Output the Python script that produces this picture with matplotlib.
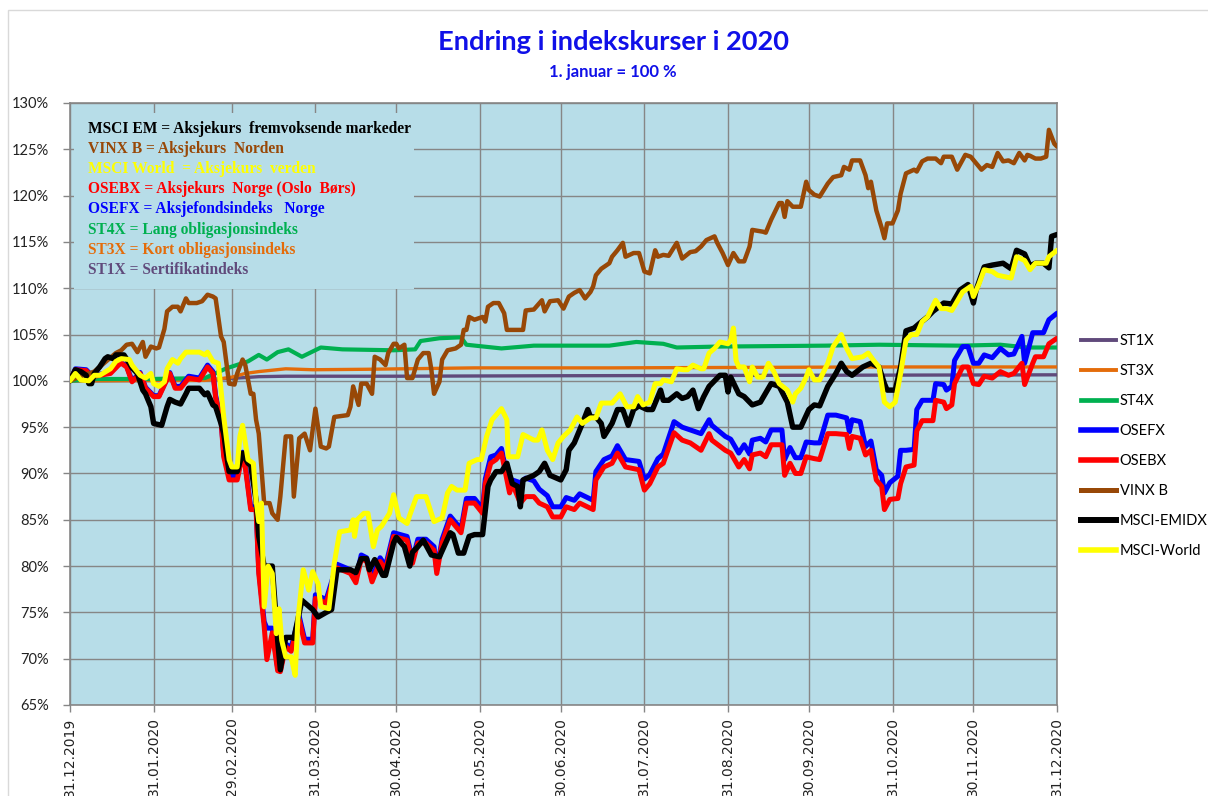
import numpy as np
import pandas as pd
import matplotlib
matplotlib.use('Agg')
import matplotlib.pyplot as plt
from matplotlib.patches import Rectangle
from matplotlib.lines import Line2D

# values: (days after 31.12.2019, index in %)
st1x = [(0, 100.0), (31, 100.05), (52, 100.15), (62, 100.3), (70, 100.45), (80, 100.5),
        (120, 100.5), (180, 100.55), (270, 100.6), (366, 100.65)]
st3x = [(0, 100.0), (50, 100.05), (55, 100.2), (60, 100.4), (65, 100.8), (70, 101.0),
        (80, 101.3), (90, 101.2), (110, 101.25), (150, 101.4), (200, 101.4), (300, 101.5),
        (366, 101.5)]
st4x = [(0, 100.0), (10, 100.2), (30, 100.2), (50, 100.3), (58, 101.35), (66, 102.1),
        (70, 102.8), (73, 102.3), (77, 103.1), (81, 103.4), (86, 102.6), (93, 103.6),
        (101, 103.4), (120, 103.3), (128, 103.4), (130, 104.3), (137, 104.6), (145, 104.7),
        (147, 103.9), (160, 103.5), (172, 103.8), (200, 103.8), (210, 104.2), (220, 104.0),
        (225, 103.6), (240, 103.7), (280, 103.8), (300, 103.9), (330, 103.8), (345, 103.9),
        (355, 103.6), (366, 103.6)]
osefx = [(0, 100.0), (2, 101.3), (6, 101.2), (8, 100.6), (15, 100.9), (18, 101.8), (19, 102.0),
         (21, 101.6), (23, 100.0), (26, 100.9), (28, 99.3), (31, 98.4), (33, 98.4), (37, 100.9),
         (39, 99.4), (41, 99.4), (44, 100.5), (48, 100.3), (51, 101.7), (53, 101.0), (54, 98.4),
         (56, 95.9), (57, 92.1), (59, 89.7), (62, 89.7), (64, 92.3), (65, 91.0), (67, 86.4),
         (69, 86.4), (70, 79.6), (72, 74.0), (73, 73.3), (75, 73.3), (77, 69.0), (78, 68.9),
         (80, 71.6), (82, 71.2), (85, 74.6), (87, 72.1), (90, 72.1), (91, 76.9), (95, 76.4),
         (99, 80.2), (104, 79.6), (106, 78.6), (108, 81.2), (110, 80.9), (112, 78.7), (115, 80.9),
         (117, 80.0), (120, 83.6), (125, 83.2), (127, 80.7), (129, 82.9), (132, 82.9), (135, 82.1),
         (136, 79.6), (138, 82.9), (141, 85.4), (143, 84.7), (145, 84.0), (147, 87.3), (150, 87.3),
         (153, 86.2), (154, 89.4), (156, 91.8), (158, 92.0), (160, 92.7), (163, 88.4), (164, 89.3),
         (167, 89.0), (169, 89.5), (172, 89.2), (174, 88.3), (177, 87.6), (179, 86.4), (182, 86.4),
         (184, 87.4), (187, 87.1), (189, 87.8), (194, 87.1), (195, 90.2), (198, 91.5), (201, 91.9),
         (203, 93.0), (206, 91.5), (211, 91.3), (213, 89.4), (215, 89.9), (218, 91.6), (220, 92.1),
         (224, 95.6), (227, 95.0), (230, 94.7), (234, 94.3), (237, 95.8), (238, 95.2), (243, 94.0),
         (245, 93.7), (248, 92.2), (250, 93.1), (252, 92.1), (253, 93.6), (256, 93.8), (258, 93.4),
         (260, 94.7), (264, 94.7), (265, 91.5), (267, 92.8), (269, 91.7), (271, 91.7), (273, 93.4),
         (276, 93.3), (278, 93.3), (281, 96.3), (284, 96.3), (288, 96.0), (289, 94.5), (290, 95.8),
         (293, 95.6), (295, 92.9), (297, 93.5), (299, 90.4), (301, 89.8), (302, 87.9), (304, 89.0),
         (307, 89.7), (308, 92.5), (310, 92.5), (313, 92.6), (314, 96.9), (316, 97.9), (320, 97.9),
         (321, 99.7), (324, 99.6), (325, 99.0), (327, 99.4), (328, 102.2), (331, 103.7),
         (333, 103.7), (335, 101.9), (337, 101.9), (339, 102.8), (342, 102.5), (345, 103.5),
         (348, 102.8), (350, 102.9), (353, 104.8), (354, 101.9), (357, 105.2), (358, 105.2),
         (361, 105.2), (363, 106.6), (366, 107.3)]
osebx = [(0, 100.0), (2, 101.2), (6, 101.1), (8, 100.45), (15, 100.8), (18, 101.7), (19, 101.9),
         (21, 101.5), (23, 99.9), (26, 100.8), (28, 99.2), (31, 98.3), (33, 98.3), (37, 100.8),
         (39, 99.2), (41, 99.2), (44, 100.3), (48, 100.1), (51, 101.5), (53, 100.8), (54, 98.2),
         (56, 95.7), (57, 91.8), (59, 89.3), (62, 89.3), (64, 92.0), (65, 90.7), (67, 86.1),
         (69, 86.1), (70, 79.2), (72, 73.5), (73, 69.9), (75, 72.8), (77, 68.7), (78, 68.6),
         (80, 71.3), (82, 70.8), (85, 74.2), (87, 71.7), (90, 71.7), (91, 76.5), (95, 76.0),
         (99, 79.8), (104, 79.2), (106, 78.2), (108, 80.8), (110, 80.5), (112, 78.3), (115, 80.5),
         (117, 79.6), (120, 83.2), (125, 82.8), (127, 80.3), (129, 82.5), (132, 82.5), (135, 81.7),
         (136, 79.2), (138, 82.5), (141, 85.0), (143, 84.3), (145, 83.6), (147, 86.8), (150, 86.8),
         (153, 85.7), (154, 88.9), (156, 91.1), (158, 91.5), (160, 92.2), (163, 87.9), (164, 88.9),
         (167, 86.8), (169, 87.5), (172, 87.5), (174, 86.8), (177, 86.4), (179, 85.3), (182, 85.3),
         (184, 86.4), (187, 86.1), (189, 86.8), (194, 86.1), (195, 89.3), (198, 90.7), (201, 91.1),
         (203, 92.2), (206, 90.7), (211, 90.4), (213, 88.2), (215, 88.9), (218, 90.7), (220, 91.1),
         (224, 94.4), (227, 93.6), (230, 93.3), (234, 92.5), (237, 94.3), (238, 93.6), (243, 92.5),
         (245, 92.2), (248, 90.7), (250, 91.5), (252, 90.5), (253, 92.0), (256, 92.2), (258, 91.8),
         (260, 93.1), (264, 93.1), (265, 89.8), (267, 91.1), (269, 90.0), (271, 90.0), (273, 91.8),
         (276, 91.6), (278, 91.5), (281, 94.3), (284, 94.3), (288, 94.2), (289, 92.7), (290, 94.0),
         (293, 93.8), (295, 92.0), (297, 92.5), (299, 89.3), (301, 88.6), (302, 86.1), (304, 87.2),
         (307, 87.3), (308, 88.9), (310, 90.7), (313, 90.9), (314, 94.6), (316, 95.7), (320, 95.7),
         (321, 97.9), (324, 97.7), (325, 97.0), (327, 97.4), (328, 99.7), (331, 101.5),
         (333, 101.5), (335, 99.7), (337, 99.6), (339, 100.5), (342, 100.3), (345, 101.0),
         (348, 100.6), (350, 100.8), (353, 101.9), (354, 99.6), (357, 101.9), (358, 102.6),
         (361, 102.6), (363, 104.0), (366, 104.6)]
vinx = [(0, 100.0), (4, 100.5), (9, 101.0), (13, 102.0), (17, 103.0), (19, 103.3), (21, 103.9),
        (23, 104.0), (25, 103.1), (27, 104.2), (28, 102.6), (30, 103.7), (32, 103.5), (33, 103.6),
        (35, 105.6), (36, 107.5), (38, 108.0), (40, 108.0), (41, 107.5), (43, 108.9), (44, 108.4),
        (47, 108.4), (49, 108.6), (51, 109.3), (53, 109.1), (54, 108.9), (56, 104.8), (57, 104.2),
        (59, 99.7), (61, 99.6), (62, 100.8), (64, 102.3), (65, 101.7), (67, 98.6), (68, 98.6),
        (69, 95.8), (70, 94.3), (72, 86.8), (74, 86.8), (75, 85.7), (77, 85.0), (78, 87.5),
        (80, 94.0), (82, 94.0), (83, 87.5), (85, 93.8), (87, 94.3), (89, 92.5), (91, 97.0),
        (93, 92.9), (95, 92.7), (96, 92.9), (98, 96.1), (103, 96.3), (104, 97.2), (105, 99.4),
        (107, 97.4), (108, 99.7), (110, 99.7), (112, 98.6), (113, 102.6), (115, 102.3),
        (117, 101.7), (118, 103.0), (120, 104.0), (121, 104.0), (122, 103.5), (124, 103.9),
        (125, 100.3), (127, 100.3), (129, 102.3), (131, 103.0), (133, 103.0), (134, 101.2),
        (135, 98.6), (137, 99.9), (138, 102.3), (140, 103.3), (143, 103.5), (145, 103.9),
        (146, 105.5), (147, 105.5), (148, 106.9), (150, 106.6), (153, 106.9), (154, 106.4),
        (155, 108.0), (157, 108.4), (159, 108.4), (161, 107.3), (162, 105.5), (164, 105.5),
        (168, 105.5), (169, 107.6), (172, 107.7), (175, 108.7), (176, 107.5), (178, 108.6),
        (181, 108.7), (183, 107.8), (185, 109.1), (187, 109.5), (189, 109.8), (191, 108.9),
        (193, 109.6), (194, 110.2), (195, 111.4), (197, 112.1), (200, 112.7), (201, 113.4),
        (203, 114.1), (205, 114.9), (206, 113.4), (209, 113.8), (211, 113.8), (213, 111.8),
        (215, 111.6), (217, 114.1), (218, 113.4), (220, 113.6), (222, 113.5), (225, 114.9),
        (227, 113.2), (230, 113.9), (232, 114.0), (234, 114.5), (236, 115.2), (239, 115.6),
        (240, 114.9), (242, 113.8), (244, 112.5), (246, 113.8), (248, 112.9), (250, 112.9),
        (252, 114.5), (253, 116.3), (257, 116.1), (258, 116.0), (260, 117.4), (263, 119.2),
        (264, 119.2), (265, 117.7), (266, 119.4), (268, 118.8), (271, 118.8), (273, 121.5),
        (274, 120.6), (276, 120.1), (278, 119.9), (281, 121.3), (283, 122.0), (286, 122.2),
        (287, 123.1), (289, 122.8), (290, 123.8), (293, 123.8), (295, 122.2), (296, 120.8),
        (297, 121.5), (299, 118.4), (301, 116.5), (302, 115.4), (303, 117.0), (305, 117.0),
        (307, 118.4), (308, 120.2), (310, 122.4), (313, 122.8), (314, 122.6), (316, 123.7),
        (318, 124.0), (321, 124.0), (323, 123.5), (324, 124.2), (327, 124.2), (329, 122.8),
        (332, 124.4), (334, 124.2), (336, 123.5), (338, 122.8), (340, 123.3), (342, 123.1),
        (344, 124.6), (346, 123.7), (348, 123.8), (350, 123.5), (352, 124.6), (354, 123.8),
        (355, 124.4), (356, 124.3), (358, 124.0), (360, 124.0), (362, 124.2), (363, 127.1),
        (365, 125.6), (366, 125.3)]
msci_em = [(0, 100.0), (2, 101.2), (4, 101.0), (6, 100.6), (7, 99.7), (8, 99.7), (9, 100.8),
           (11, 101.5), (13, 102.4), (14, 102.6), (16, 102.4), (17, 102.8), (20, 102.8),
           (22, 101.9), (23, 101.4), (25, 100.8), (27, 99.0), (28, 98.6), (30, 97.2), (31, 95.4),
           (34, 95.2), (36, 97.2), (37, 98.0), (39, 97.7), (41, 97.5), (43, 98.6), (44, 99.2),
           (48, 99.2), (50, 98.5), (51, 98.7), (53, 97.4), (54, 97.2), (56, 95.4), (57, 94.3),
           (58, 92.2), (59, 90.2), (62, 90.2), (64, 92.2), (66, 91.1), (67, 90.9), (69, 87.1),
           (70, 83.2), (72, 80.0), (75, 80.0), (77, 72.0), (78, 68.8), (80, 72.3), (82, 72.3),
           (83, 72.2), (86, 76.3), (90, 75.3), (92, 74.5), (95, 75.0), (97, 75.3), (99, 79.6),
           (104, 79.6), (106, 79.3), (108, 80.8), (110, 80.8), (111, 79.6), (113, 80.7),
           (116, 79.0), (117, 79.0), (120, 82.5), (121, 83.1), (124, 82.1), (126, 80.0),
           (127, 81.5), (129, 82.1), (131, 82.8), (134, 81.2), (137, 81.0), (141, 83.6),
           (142, 83.4), (144, 81.4), (146, 81.4), (148, 83.2), (150, 83.4), (153, 83.4),
           (155, 88.6), (156, 89.3), (158, 90.2), (160, 90.2), (162, 91.1), (164, 88.9),
           (166, 88.6), (167, 86.4), (168, 89.3), (172, 89.8), (174, 90.2), (176, 91.1),
           (178, 89.8), (182, 89.3), (184, 90.4), (185, 92.5), (187, 93.3), (190, 95.4),
           (192, 96.9), (193, 96.1), (195, 96.1), (197, 95.4), (198, 94.0), (201, 95.4),
           (203, 96.9), (205, 96.9), (207, 95.2), (209, 96.9), (211, 97.3), (214, 96.9),
           (216, 96.9), (219, 99.0), (220, 97.9), (222, 97.9), (225, 98.6), (227, 98.1),
           (229, 98.3), (231, 99.0), (233, 97.0), (235, 98.3), (237, 99.4), (241, 100.6),
           (243, 100.6), (244, 98.8), (245, 100.4), (248, 98.6), (250, 98.3), (253, 97.4),
           (256, 97.7), (260, 99.7), (263, 99.4), (266, 97.7), (268, 95.0), (271, 95.0),
           (274, 96.9), (276, 97.4), (278, 97.3), (281, 99.4), (284, 100.8), (286, 101.9),
           (288, 101.0), (290, 100.6), (294, 101.5), (297, 101.9), (300, 101.5), (302, 99.7),
           (303, 99.0), (306, 99.0), (308, 101.5), (310, 105.4), (313, 105.7), (315, 106.2),
           (318, 106.9), (320, 107.5), (324, 108.4), (327, 108.3), (330, 109.8), (333, 110.4),
           (335, 108.4), (336, 109.8), (339, 112.3), (342, 112.5), (346, 112.7), (349, 112.1),
           (351, 114.1), (354, 113.7), (356, 112.4), (358, 112.7), (361, 112.7), (363, 112.2),
           (364, 115.6), (366, 115.8)]
msci_world = [(0, 100.0), (2, 100.8), (4, 100.1), (7, 100.0), (9, 100.6), (11, 100.6),
              (15, 101.3), (17, 102.1), (19, 102.4), (22, 102.3), (23, 101.7), (26, 100.6),
              (28, 100.3), (30, 100.8), (31, 99.7), (33, 99.4), (35, 99.9), (36, 101.3),
              (38, 102.3), (40, 101.9), (41, 102.4), (43, 103.1), (48, 103.1), (50, 102.8),
              (51, 103.1), (53, 102.1), (55, 101.9), (56, 99.0), (57, 96.1), (59, 91.5),
              (60, 90.7), (62, 90.7), (63, 94.0), (64, 95.2), (66, 91.5), (68, 91.1), (69, 87.1),
              (70, 84.8), (71, 86.8), (72, 75.6), (73.5, 80.0), (75, 79.2), (76.5, 72.7),
              (77.5, 75.4), (78.5, 72.0), (80, 70.2), (82, 70.2), (83.5, 68.2), (84.5, 74.2),
              (86.5, 79.6), (88.5, 77.4), (90, 79.4), (92, 78.1), (93, 75.6), (96, 75.4),
              (98, 80.3), (100, 83.7), (104, 83.9), (105, 85.0), (105.5, 83.2), (106.5, 85.0),
              (109, 85.7), (110.5, 85.7), (112.5, 82.1), (114, 83.9), (115.5, 84.3), (118.5, 85.7),
              (120, 87.7), (122, 85.2), (125, 84.6), (126, 85.5), (128.5, 87.5), (132, 87.5),
              (135, 84.8), (138, 85.2), (140, 87.9), (141.5, 88.6), (143.5, 88.2), (146.5, 88.2),
              (148, 91.1), (151, 91.5), (152.5, 91.5), (154.5, 94.0), (156.5, 95.8), (158, 96.3),
              (160, 97.0), (162, 95.8), (162.5, 91.8), (166, 91.8), (168, 94.2), (172, 93.6),
              (173.5, 93.6), (175, 94.7), (177, 92.5), (179, 91.5), (181, 93.3), (183, 94.0),
              (185.5, 94.7), (188, 96.1), (190, 95.4), (193, 96.0), (195, 96.0), (197, 97.6),
              (201, 97.6), (204, 98.6), (206.5, 97.2), (209, 97.2), (210.5, 98.3), (212.5, 97.4),
              (215, 97.7), (217, 99.7), (219, 99.7), (220, 100.1), (223, 99.9), (225, 101.3),
              (227.5, 101.2), (229, 101.2), (231, 101.7), (234, 101.3), (235, 101.3), (237, 103.0),
              (239, 103.5), (241, 104.2), (244, 104.0), (245, 104.4), (246, 105.7), (247, 102.2),
              (248, 101.5), (250, 101.5), (252, 99.9), (253, 101.5), (255, 100.4), (257, 100.4),
              (259, 101.9), (261, 101.0), (263, 99.7), (266, 99.0), (268, 97.7), (269, 98.6),
              (271, 99.2), (273, 100.4), (274, 101.2), (276, 100.1), (278, 100.1), (281, 101.9),
              (283, 103.7), (286, 105.0), (288, 103.5), (290, 102.4), (294, 102.6), (296, 103.0),
              (298, 102.2), (300, 101.5), (302, 97.7), (304, 97.2), (306, 97.7), (308, 100.8),
              (310, 104.4), (312, 105.0), (314, 105.0), (316, 106.4), (318, 106.9), (321, 108.7),
              (323, 107.8), (325, 107.8), (327, 107.6), (331, 109.6), (334, 110.2), (335, 109.1),
              (337, 110.4), (339, 112.0), (342, 111.8), (344, 111.4), (349, 111.1), (351, 113.4),
              (354, 113.0), (356, 112.0), (358, 112.7), (362, 112.7), (363, 113.4), (366, 114.1)]

series_names = ['ST1X', 'ST3X', 'ST4X', 'OSEFX', 'OSEBX', 'VINX B', 'MSCI-EMIDX', 'MSCI-World']
series_data = [st1x, st3x, st4x, osefx, osebx, vinx, msci_em, msci_world]
series_colors = ['#604A7B', '#E46C0A', '#00B050', '#0000FF', '#FF0000', '#984807', '#000000', '#FFFF00']
series_widths = [2.4, 2.4, 3.0, 3.6, 3.6, 3.2, 3.9, 3.6]

tick_labels = ['31.12.2019', '31.01.2020', '29.02.2020', '31.03.2020', '30.04.2020', '31.05.2020',
               '30.06.2020', '31.07.2020', '31.08.2020', '30.09.2020', '31.10.2020', '30.11.2020',
               '31.12.2020']

note_lines = ['MSCI EM = Aksjekurs  fremvoksende markeder',
              'VINX B = Aksjekurs  Norden',
              'MSCI World  = Aksjekurs  verden',
              'OSEBX = Aksjekurs  Norge (Oslo  Børs)',
              'OSEFX = Aksjefondsindeks   Norge',
              'ST4X = Lang obligasjonsindeks',
              'ST3X = Kort obligasjonsindeks',
              'ST1X = Sertifikatindeks']
note_colors = ['#000000', '#984807', '#FFFF00', '#FF0000', '#0000FF', '#00B050', '#E46C0A', '#604A7B']

start = pd.Timestamp('2019-12-31')
bg = '#B7DDE8'
grid_c = '#868686'
title_c = '#1010E8'

plt.rcParams['font.family'] = ['Lato', 'DejaVu Sans']

fig = plt.figure(figsize=(12.08, 7.96), dpi=100)
ax = fig.add_axes([70 / 1208, 91 / 796, 987 / 1208, 602 / 796])
ax.set_facecolor(bg)
ax.set_axisbelow(True)

# light frame round the whole chart
fig.patches.append(Rectangle((8 / 1208, -0.01), 1.1, 0.9975, transform=fig.transFigure,
                             fill=False, edgecolor='#D9D9D9', linewidth=1))

for name, data, col, lw in zip(series_names, series_data, series_colors, series_widths):
    days, vals = zip(*data)
    dates = start + pd.to_timedelta(np.array(days), unit='D')
    ax.plot(dates, vals, color=col, linewidth=lw, solid_joinstyle='round',
            solid_capstyle='round', zorder=3)

ax.set_xlim(start, start + pd.Timedelta(days=366))
ax.set_ylim(65, 130)

tick_dates = pd.to_datetime(tick_labels, format='%d.%m.%Y')
ax.set_xticks(tick_dates)
ax.set_xticklabels(tick_labels, rotation=90, fontsize=10, family='DejaVu Sans', color='#222222')
yt = np.arange(65, 131, 5)
ax.set_yticks(yt)
ax.set_yticklabels([f'{v}%' for v in yt], fontsize=10.5, color='#222222')

ax.grid(True, color=grid_c, linewidth=1.0)
ax.tick_params(axis='both', direction='out', length=5, color=grid_c, width=1)
ax.tick_params(axis='y', pad=10)
ax.tick_params(axis='x', pad=4)
for s in ax.spines.values():
    s.set_color(grid_c)
    s.set_linewidth(1.2)

# note box covering the grid in the upper left corner
ax.add_patch(Rectangle((4 / 987, (705 - 289) / 602), 340 / 987, 176 / 602,
                       transform=ax.transAxes, facecolor=bg, edgecolor='none', zorder=1))
for i, (txt, col) in enumerate(zip(note_lines, note_colors)):
    ax.text(18 / 987, (705 - 129 - i * 20.1) / 602, txt, transform=ax.transAxes,
            color=col, fontsize=11.2, fontweight='bold', family='Liberation Serif',
            va='center', ha='left', zorder=2)

fig.text(613 / 1208, 1 - 42 / 796, 'Endring i indekskurser i 2020', color=title_c,
         fontsize=19.6, fontweight='bold', ha='center', va='center')
fig.text(613 / 1208, 1 - 72.5 / 796, '1. januar = 100 %', color=title_c,
         fontsize=12, fontweight='bold', ha='center', va='center')

leg_handles = [Line2D([], [], color=c, linewidth=lw + 0.4) for c, lw in zip(series_colors, series_widths)]
fig.legend(leg_handles, series_names, loc='upper left',
           bbox_to_anchor=(1081 / 1208, 1 - 334 / 796), frameon=False, fontsize=10.5,
           handlelength=2.4, handletextpad=0.25, labelspacing=1.1, borderpad=0,
           borderaxespad=0)

fig.savefig('out.png', dpi=100, facecolor='white')
